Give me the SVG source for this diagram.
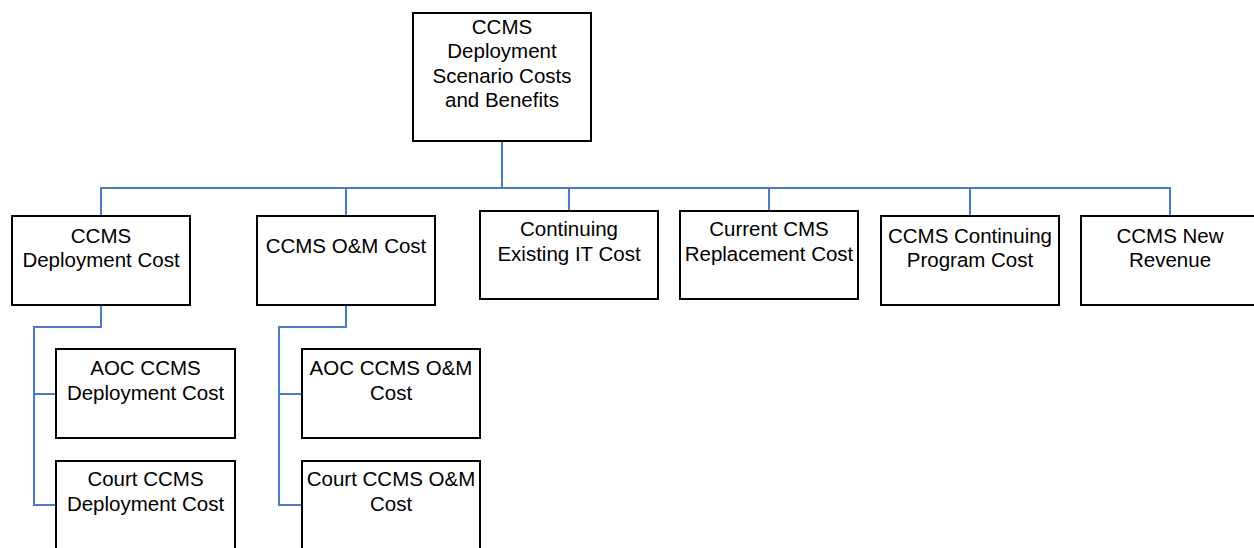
<svg xmlns="http://www.w3.org/2000/svg" width="1254" height="548" viewBox="0 0 1254 548">
<style>
.box{fill:#ffffff;stroke:#000000;stroke-width:2}
.t{font-family:"Liberation Sans",Arial,sans-serif;font-size:20.5px;fill:#000000;text-anchor:middle}
.c{fill:none;stroke:#4A7BC8;stroke-width:2}
</style>
<rect width="1254" height="548" fill="#ffffff"/>
<g id="connectors">
<path class="c" d="M502,141 V188"/>
<path class="c" d="M101,216 V188 H1170 V216"/>
<path class="c" d="M346,188 V216"/>
<path class="c" d="M569,188 V211"/>
<path class="c" d="M769,188 V211"/>
<path class="c" d="M970,188 V216"/>
<path class="c" d="M101,305 V327 H34 V505 H56"/>
<path class="c" d="M34,394 H56"/>
<path class="c" d="M346,305 V327 H279 V505 H302"/>
<path class="c" d="M279,394 H302"/>
</g>
<g id="root">
<rect class="box" x="413" y="13" width="178" height="128"/>
<text class="t" x="502" y="33.5">CCMS</text>
<text class="t" x="502" y="58">Deployment</text>
<text class="t" x="502" y="82.5">Scenario Costs</text>
<text class="t" x="502" y="107">and Benefits</text>
</g>
<g id="deploy">
<rect class="box" x="12" y="216" width="178" height="89"/>
<text class="t" x="101" y="242.5">CCMS</text>
<text class="t" x="101" y="267">Deployment Cost</text>
</g>
<g id="om">
<rect class="box" x="257" y="216" width="178" height="89"/>
<text class="t" x="346" y="253">CCMS O&amp;M Cost</text>
</g>
<g id="continuing-it">
<rect class="box" x="480" y="211" width="178" height="88"/>
<text class="t" x="569" y="236">Continuing</text>
<text class="t" x="569" y="260.5">Existing IT Cost</text>
</g>
<g id="current-cms">
<rect class="box" x="680" y="211" width="178" height="88"/>
<text class="t" x="769" y="236">Current CMS</text>
<text class="t" x="769" y="260.5">Replacement Cost</text>
</g>
<g id="continuing-program">
<rect class="box" x="881" y="216" width="178" height="89"/>
<text class="t" x="970" y="242.5">CCMS Continuing</text>
<text class="t" x="970" y="267">Program Cost</text>
</g>
<g id="revenue">
<rect class="box" x="1081" y="216" width="178" height="89"/>
<text class="t" x="1170" y="242.5">CCMS New</text>
<text class="t" x="1170" y="267">Revenue</text>
</g>
<g id="aoc-deploy">
<rect class="box" x="56" y="349" width="179" height="89"/>
<text class="t" x="145.5" y="375">AOC CCMS</text>
<text class="t" x="145.5" y="400">Deployment Cost</text>
</g>
<g id="court-deploy">
<rect class="box" x="56" y="461" width="179" height="89"/>
<text class="t" x="145.5" y="486">Court CCMS</text>
<text class="t" x="145.5" y="510.5">Deployment Cost</text>
</g>
<g id="aoc-om">
<rect class="box" x="302" y="349" width="178" height="89"/>
<text class="t" x="391" y="375">AOC CCMS O&amp;M</text>
<text class="t" x="391" y="400">Cost</text>
</g>
<g id="court-om">
<rect class="box" x="302" y="461" width="178" height="89"/>
<text class="t" x="391" y="486">Court CCMS O&amp;M</text>
<text class="t" x="391" y="510.5">Cost</text>
</g>
</svg>
